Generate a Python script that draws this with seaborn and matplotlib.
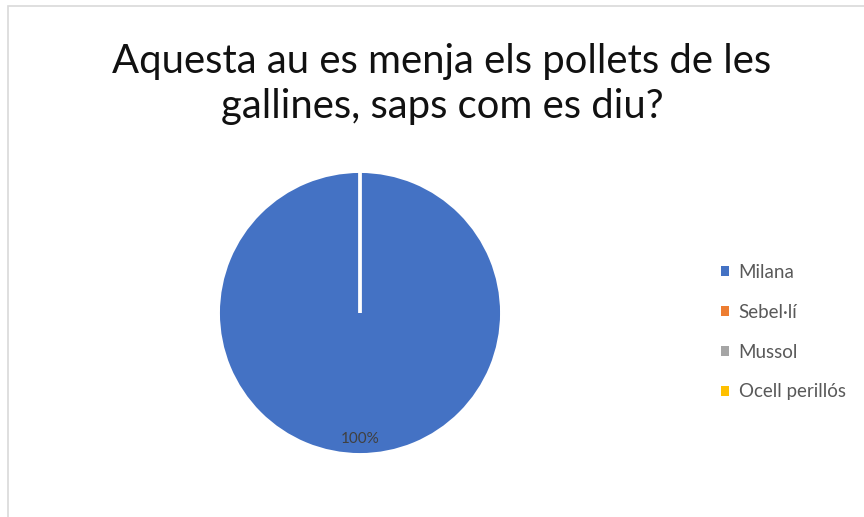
import matplotlib
matplotlib.use("Agg")
import matplotlib.pyplot as plt
import matplotlib.patches as mpatches
import seaborn as sns

# data
categories = ["Milana", "Sebel·lí", "Mussol", "Ocell perillós"]
values = [100, 0, 0, 0]
colors = ["#4472C4", "#ED7D31", "#A5A5A5", "#FFC000"]
title = "Aquesta au es menja els pollets de les\ngallines, saps com es diu?"

sns.set_theme(style="white")
plt.rcParams["font.family"] = ["Lato", "DejaVu Sans"]

fig = plt.figure(figsize=(8.64, 5.17), dpi=100)
fig.patch.set_facecolor("white")

# chart frame
fig.add_artist(mpatches.Rectangle((8 / 864, -0.02), 1.0, 1 - 6 / 517 + 0.02,
                                  transform=fig.transFigure, fill=False,
                                  edgecolor="#D9D9D9", linewidth=1.2))

fig.text(442 / 864, 1 - 84 / 517, title, ha="center", va="center",
         fontsize=28.8, color="#111111", linespacing=1.27)

ax = fig.add_axes([217 / 864, 1 - 456 / 517, 286 / 864, 286 / 517])
wedges, texts, autotexts = ax.pie(
    values, colors=colors, startangle=90, counterclock=False,
    autopct=lambda p: f"{p:.0f}%" if p > 0 else "",
    pctdistance=0.89, radius=1,
    wedgeprops=dict(edgecolor="white", linewidth=2.2),
    textprops=dict(color="#404040", fontsize=11))
ax.set_xlim(-1.01, 1.01)
ax.set_ylim(-1.01, 1.01)
ax.set_aspect("equal")

handles = [mpatches.Patch(facecolor=c, edgecolor="none") for c in colors]
leg = fig.legend(handles, categories, loc="upper left",
                 bbox_to_anchor=(704 / 864, 1 - 247 / 517),
                 frameon=False, fontsize=13.5, handlelength=0.45,
                 handleheight=0.45, handletextpad=0.5, labelspacing=1.22,
                 labelcolor="#595959")

fig.savefig("out.png", dpi=100)
